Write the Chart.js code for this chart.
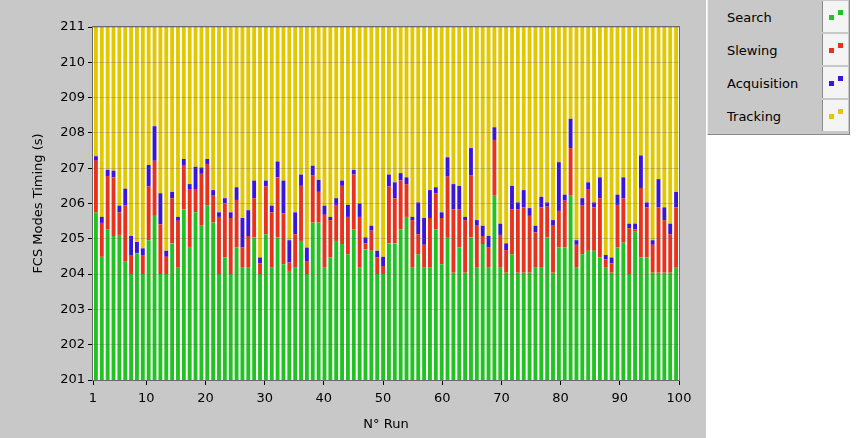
<!DOCTYPE html>
<html><head><meta charset="utf-8">
<script src="https://cdn.jsdelivr.net/npm/chart.js@4.4.1/dist/chart.umd.min.js"></script>
<style>
html,body{margin:0;padding:0;background:#fff;width:860px;height:438px;overflow:hidden;font-family:"DejaVu Sans",sans-serif;}
#panel{position:absolute;left:0;top:0;width:706px;height:438px;background:#c8c8c8;}
#legend{position:absolute;left:707px;top:0;width:141px;height:134px;background:#c8c8c8;border-left:1px solid #eeeeee;border-bottom:1px solid #8a8a8a;border-right:1px solid #8a8a8a;}
.row{position:absolute;left:0;width:141px;height:33px;}
.lbl{position:absolute;left:19px;top:10px;font-size:13px;color:#000;}
.ico{position:absolute;left:114px;top:1px;width:25px;height:31px;background:#f4f4f4;border-left:1px solid #8a8a8a;}
.sq{position:absolute;width:5px;height:5px;}
</style></head>
<body>
<div id="panel"><canvas id="c" width="706" height="438"></canvas></div>
<div id="legend"></div>
<script>
const runs = Array.from({length: 100}, (_, i) => String(i + 1));
const xTickValues = [1, 10, 20, 30, 40, 50, 60, 70, 80, 90, 100];
const seriesNames = ["Search", "Slewing", "Acquisition", "Tracking"];
const seriesColors = ["#22c222", "#e8321c", "#3a14d8", "#e2c800"];

const search = [205.75,204.49,205.26,205.08,205.11,204.35,204.00,204.58,204.00,204.96,
205.65,204.00,204.00,204.87,204.18,205.84,204.77,205.75,205.37,205.94,
205.46,204.00,204.47,204.00,204.75,204.18,204.18,205.04,204.00,205.13,
204.18,205.04,204.28,204.09,204.18,204.94,204.00,205.46,205.46,204.18,
204.47,204.94,204.85,204.56,205.27,204.18,204.70,204.66,204.00,204.00,
204.87,204.87,205.27,205.62,204.18,204.56,204.18,204.18,205.27,204.28,
205.05,204.04,204.75,204.04,205.04,204.18,204.85,204.18,206.22,204.18,
204.04,204.56,204.04,204.04,204.04,204.18,204.18,205.04,204.04,204.75,
204.75,206.22,204.18,204.56,204.66,204.66,204.47,204.18,204.04,204.75,
204.89,204.00,205.20,204.47,204.47,204.04,204.04,204.04,204.04,204.18];

const slewing = [1.46,0.96,1.52,1.66,0.64,1.59,0.54,0.02,0.54,1.52,
1.56,1.41,0.49,1.28,1.33,1.25,1.64,0.66,1.47,1.18,
0.76,1.62,1.53,1.59,1.35,0.57,0.90,1.11,0.30,1.35,
1.57,1.70,1.44,0.24,0.95,1.56,0.37,1.33,0.87,1.50,
1.06,1.02,1.65,1.06,1.55,1.44,0.17,0.57,0.47,0.23,
1.61,1.28,1.38,0.93,1.35,0.57,0.65,1.41,1.02,1.31,
1.71,1.80,1.09,1.49,1.75,1.19,0.23,0.57,1.58,0.93,
0.64,1.28,1.80,1.85,1.61,1.00,1.71,0.87,1.33,1.04,
1.33,1.35,0.65,1.38,1.75,1.23,1.68,0.24,0.26,1.21,
1.26,1.30,0.07,1.97,1.42,0.79,1.85,1.49,1.09,1.71];

const acquisition = [0.13,0.17,0.17,0.19,0.19,0.48,0.54,0.31,0.19,0.61,
0.98,0.88,0.17,0.18,0.11,0.17,0.14,0.63,0.18,0.14,
0.16,0.13,0.15,0.16,0.36,0.84,0.73,0.50,0.17,0.17,
0.19,0.45,0.93,0.63,0.62,0.32,0.38,0.28,0.34,0.26,
0.09,0.19,0.15,0.34,0.13,0.38,0.17,0.14,0.19,0.26,
0.34,0.45,0.21,0.19,0.09,0.90,0.76,0.79,0.17,0.16,
0.55,0.71,0.66,0.09,0.78,0.16,0.29,0.33,0.36,0.32,
0.19,0.66,0.19,0.49,0.22,0.19,0.30,0.12,0.16,1.38,
0.17,0.83,0.13,0.21,0.19,0.14,0.59,0.12,0.17,0.29,
0.59,0.13,0.16,0.92,0.14,0.13,0.80,0.36,0.30,0.44];

const tracking = [3.66,5.38,4.05,4.07,5.06,4.58,5.92,6.09,6.27,3.91,
2.81,4.71,6.34,4.67,5.38,3.74,4.45,3.96,3.98,3.74,
4.62,5.25,4.85,5.25,4.54,5.41,5.19,4.35,6.53,4.35,
5.06,3.81,4.35,6.04,5.25,4.18,6.25,3.93,4.33,5.06,
5.38,4.85,4.35,5.04,4.05,5.00,5.96,5.63,6.34,6.51,
4.18,4.40,4.14,4.26,5.38,4.97,5.41,4.62,4.54,5.25,
3.69,4.45,4.50,5.38,3.43,5.47,5.63,5.92,2.84,5.57,
6.13,4.50,4.97,4.62,5.13,5.63,4.81,4.97,5.47,3.83,
4.75,2.60,6.04,4.85,4.40,4.97,4.26,6.46,6.53,4.75,
4.26,5.57,5.57,3.64,4.97,6.04,4.31,5.11,5.57,4.67];

const seriesData = [search, slewing, acquisition, tracking];

const legend = document.getElementById('legend');
seriesNames.forEach((name, i) => {
  const row = document.createElement('div');
  row.className = 'row';
  row.style.top = (i * 33) + 'px';
  row.innerHTML = '<div class="lbl">' + name + '</div>' +
    '<div class="ico"><div class="sq" style="left:6px;top:14px;background:' + seriesColors[i] + '"></div>' +
    '<div class="sq" style="left:15px;top:9px;background:' + seriesColors[i] + '"></div></div>';
  legend.appendChild(row);
});

const font = {family: "'DejaVu Sans', sans-serif", size: 13};

const plotBg = {
  id: 'plotBg',
  beforeDatasetsDraw(chart) {
    const {ctx, chartArea: a} = chart;
    ctx.save();
    ctx.fillStyle = '#ffffff';
    ctx.fillRect(a.left, a.top, a.right - a.left, a.bottom - a.top);
    ctx.restore();
  },
  afterDraw(chart) {
    const {ctx, chartArea: a} = chart;
    ctx.save();
    ctx.strokeStyle = '#6a6a6a';
    ctx.lineWidth = 1;
    ctx.strokeRect(a.left - 0.5, a.top - 0.5, a.right - a.left + 1, a.bottom - a.top + 1);
    ctx.restore();
  }
};

new Chart(document.getElementById('c'), {
  type: 'bar',
  data: {
    labels: runs,
    datasets: seriesNames.map((n, i) => ({
      label: n,
      data: seriesData[i],
      backgroundColor: seriesColors[i],
      borderWidth: 0,
      inflateAmount: 0,
      barPercentage: 0.66,
      categoryPercentage: 1.0,
      xAxisID: 'x',
      yAxisID: 'y'
    }))
  },
  options: {
    responsive: false,
    animation: false,
    layout: {padding: {left: 27, right: 27, top: 27, bottom: 0}},
    plugins: {legend: {display: false}, tooltip: {enabled: false}},
    scales: {
      x: {type: 'category', display: false, stacked: true, offset: true},
      x2: {
        type: 'linear', position: 'bottom', min: 1, max: 100, offset: false,
        afterBuildTicks: s => { s.ticks = xTickValues.map(v => ({value: v})); },
        afterFit: s => { s.height = 58; },
        grid: {offset: false, drawOnChartArea: false, drawTicks: true, tickLength: 5, tickColor: '#000'},
        border: {display: false},
        ticks: {color: '#000', font, padding: 6, maxRotation: 0, autoSkip: false},
        title: {display: true, text: 'N° Run', color: '#000', font, padding: {top: 2, bottom: 6}}
      },
      y: {
        stacked: true, min: 201, max: 211,
        afterFit: s => { s.width = 66; },
        ticks: {stepSize: 1, color: '#000', font, padding: 3},
        grid: {color: 'rgba(90,90,90,0.28)', z: 1, drawTicks: true, tickLength: 5, tickColor: '#000'},
        border: {display: false},
        title: {display: true, text: 'FCS Modes Timing (s)', color: '#000', font, padding: {top: 4, bottom: 0}}
      }
    }
  },
  plugins: [plotBg]
});
</script>
</body></html>
